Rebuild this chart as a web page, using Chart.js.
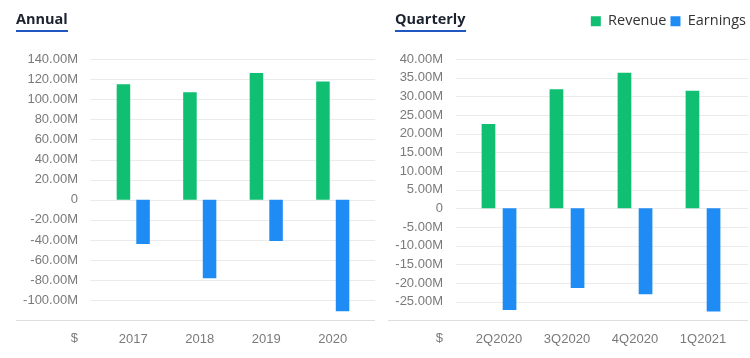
<!DOCTYPE html>
<html>
<head>
<meta charset="utf-8">
<script src="https://cdn.jsdelivr.net/npm/chart.js@4/dist/chart.umd.min.js"></script>
<style>
  html, body { margin: 0; padding: 0; background: #fff; }
  .wrap { position: relative; width: 750px; height: 358px; overflow: hidden; }
  .panel { position: absolute; top: 0; width: 375px; height: 358px; }
  .panel canvas { position: absolute; left: 0; top: 0; }
  .title {
    position: absolute; top: 11px; display: inline-block;
    font: bold 14.5px "Open Sans", sans-serif; line-height: 15px;
    color: #1c2330; padding-bottom: 4px; border-bottom: 2px solid #1f56c2;
  }
</style>
</head>
<body>
<div class="wrap">
  <div class="panel" style="left:0">
    <canvas id="annualChart" width="375" height="358"></canvas>
    <div class="title" style="left:16px">Annual</div>
  </div>
  <div class="panel" style="left:375px">
    <canvas id="quarterlyChart" width="375" height="358"></canvas>
    <div class="title" style="left:20px">Quarterly</div>
  </div>
</div>
<script>
const years = ['2017', '2018', '2019', '2020'];
const annualRevenue = [115e6, 107e6, 126e6, 117.5e6];
const annualEarnings = [-44e6, -78e6, -41e6, -111e6];

const quarters = ['2Q2020', '3Q2020', '4Q2020', '1Q2021'];
const quarterlyRevenue = [22.6e6, 31.9e6, 36.3e6, 31.5e6];
const quarterlyEarnings = [-27.2e6, -21.3e6, -23.0e6, -27.6e6];

const GREEN = '#10bf71';
const BLUE = '#1f8cf6';
const TICK_COLOR = '#7a7a7a';
const TICK_FONT = { family: '"Liberation Sans", Arial, sans-serif', size: 13 };

// light horizontal grid that runs a little past the plot, plus the base line and "$"
const sideGrid = {
  id: 'sideGrid',
  beforeDatasetsDraw(chart, args, opts) {
    const { ctx, chartArea, scales: { x, y } } = chart;
    ctx.save();
    ctx.lineWidth = 1;
    y.ticks.forEach(t => {
      const py = Math.round(y.getPixelForValue(t.value)) + 0.5;
      const base = t.value === y.min;
      ctx.strokeStyle = base ? '#dedede' : '#ebebeb';
      ctx.beginPath();
      ctx.moveTo(base ? opts.axisFrom : chartArea.left - opts.extLeft, py);
      ctx.lineTo(chartArea.right + opts.extRight, py);
      ctx.stroke();
    });
    ctx.fillStyle = TICK_COLOR;
    ctx.font = TICK_FONT.size + 'px ' + TICK_FONT.family;
    ctx.textAlign = 'right';
    ctx.textBaseline = 'middle';
    ctx.fillText('$', y.right - y.options.ticks.padding, chartArea.bottom + 18);
    ctx.restore();
  }
};

// leave room between the legend row and the plot
const legendGap = {
  id: 'legendGap',
  beforeInit(chart) {
    if (!chart.legend) return;
    const fit = chart.legend.fit;
    chart.legend.fit = function () {
      fit.call(this);
      this.height += 20.5;
    };
  }
};

function fmt(min) {
  return v => {
    if (v === min) return '';
    if (v === 0) return '0';
    return (v / 1e6).toFixed(2) + 'M';
  };
}

function makeChart(id, labels, revenue, earnings, cfg) {
  return new Chart(document.getElementById(id), {
    type: 'bar',
    data: {
      labels: labels,
      datasets: [
        { label: 'Revenue', data: revenue, backgroundColor: GREEN, borderWidth: 0,
          categoryPercentage: cfg.catPct, barPercentage: cfg.barPct },
        { label: 'Earnings', data: earnings, backgroundColor: BLUE, borderWidth: 0,
          categoryPercentage: cfg.catPct, barPercentage: cfg.barPct }
      ]
    },
    options: {
      responsive: false,
      animation: false,
      layout: { padding: { top: cfg.padTop, left: 0, right: 0, bottom: 0 } },
      plugins: {
        legend: {
          display: cfg.legend,
          position: 'top',
          align: 'end',
          labels: {
            boxWidth: 10, boxHeight: 10, padding: 4, color: '#333',
            font: { family: '"Open Sans", sans-serif', size: 14.5 }
          }
        },
        tooltip: { enabled: false },
        sideGrid: cfg.grid
      },
      scales: {
        x: {
          grid: { display: false, drawTicks: false },
          border: { display: false },
          ticks: { color: TICK_COLOR, font: TICK_FONT, padding: 11 }
        },
        y: {
          min: cfg.min, max: cfg.max,
          grid: { display: false, drawTicks: false },
          border: { display: false },
          ticks: { stepSize: cfg.step, autoSkip: false, color: TICK_COLOR, font: TICK_FONT,
                   padding: 22, callback: fmt(cfg.min) },
          afterFit: s => {
            s.width = cfg.axisWidth;
            s.paddingTop = 59;
            s.paddingRight = cfg.padRight;
          }
        }
      }
    },
    plugins: [sideGrid, legendGap]
  });
}

makeChart('annualChart', years, annualRevenue, annualEarnings, {
  min: -120e6, max: 140e6, step: 20e6,
  axisWidth: 100, padRight: 9, padTop: 0, legend: false,
  catPct: 0.59, barPct: 0.69,
  grid: { extLeft: 10, extRight: 9, axisFrom: 16 }
});

makeChart('quarterlyChart', quarters, quarterlyRevenue, quarterlyEarnings, {
  min: -30e6, max: 40e6, step: 5e6,
  axisWidth: 90, padRight: 13, padTop: 10, legend: true,
  catPct: 0.62, barPct: 0.65,
  grid: { extLeft: 9, extRight: 11, axisFrom: 13 }
});
</script>
</body>
</html>
